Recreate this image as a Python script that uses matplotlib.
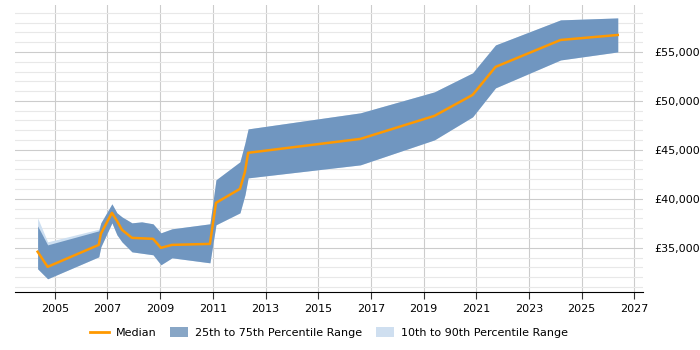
import matplotlib.pyplot as plt
from matplotlib.ticker import MultipleLocator, FuncFormatter
from matplotlib.patches import Patch
from matplotlib.lines import Line2D

# Data (decimal years, salary in GBP)
years = [2004.35, 2004.73, 2006.67, 2006.75, 2007.17, 2007.36, 2007.55, 2007.93,
         2008.3, 2008.73, 2009.03, 2009.45, 2010.89, 2011.12, 2012.03, 2012.22,
         2012.34, 2016.6, 2019.41, 2020.86, 2021.73, 2024.2, 2026.37]
median = [34600, 33060, 35300, 36430, 38570, 37760, 36840, 36020,
          35970, 35920, 35000, 35300, 35400, 39590, 41020, 42760,
          44700, 46120, 48470, 50610, 53470, 56220, 56730]
p75 = [37240, 35300, 36730, 37550, 39490, 38570, 38160, 37550,
       37650, 37450, 36530, 36940, 37450, 41940, 43780, 45710,
       47140, 48780, 50920, 52860, 55710, 58270, 58470]
p25 = [32860, 31840, 34080, 35100, 37550, 36330, 35610, 34590,
       34450, 34290, 33270, 33980, 33470, 37350, 38570, 40410,
       42140, 43470, 46020, 48370, 51330, 54180, 55000]
p90 = [38060, 35610, 36900, 37550, 39490, 38570, 38160, 37550,
       37650, 37450, 36530, 36940, 37450, 41940, 43780, 45710,
       47140, 48780, 50920, 52860, 55710, 58270, 58470]
p10 = p25
xticks = [2005, 2007, 2009, 2011, 2013, 2015, 2017, 2019, 2021, 2023, 2025, 2027]

fig = plt.figure(figsize=(7, 3.5), dpi=100)
ax = fig.add_axes([0.021, 0.166, 0.898, 0.82])

# Bands and median
ax.fill_between(years, p10, p90, color='#cddff1', linewidth=0, zorder=2)
ax.fill_between(years, p25, p75, color='#7096c0', linewidth=0, zorder=3)
ax.plot(years, median, color='#ff9900', linewidth=1.8, zorder=4)

# Axes limits and ticks
ax.set_xlim(2003.48, 2027.34)
ax.set_ylim(30500, 59800)
ax.set_xticks(xticks)
ax.xaxis.set_major_formatter(FuncFormatter(lambda v, p: '%d' % v))
ax.yaxis.set_major_locator(MultipleLocator(5000))
ax.yaxis.set_minor_locator(MultipleLocator(1000))
ax.yaxis.set_major_formatter(FuncFormatter(lambda v, p: '£{:,.0f}'.format(v)))
ax.yaxis.tick_right()
ax.tick_params(axis='y', which='both', length=0, labelsize=8, pad=8)
ax.tick_params(axis='x', length=5, color='#333333', labelsize=8)

# Grid
ax.grid(axis='x', which='major', color='#cccccc', linewidth=0.8, zorder=0)
ax.grid(axis='y', which='major', color='#cccccc', linewidth=0.8, zorder=0)
ax.grid(axis='y', which='minor', color='#e8e8e8', linewidth=0.8, zorder=0)
ax.set_axisbelow(True)

# Box
for s in ['top', 'right', 'left']:
    ax.spines[s].set_visible(False)
ax.spines['bottom'].set_color('#000000')

# Legend
handles = [Line2D([0], [0], color='#ff9900', linewidth=2),
           Patch(facecolor='#88a6c6', edgecolor='none'),
           Patch(facecolor='#cfdff0', edgecolor='none')]
labels = ['Median', '25th to 75th Percentile Range', '10th to 90th Percentile Range']
fig.legend(handles, labels, loc='center', bbox_to_anchor=(0.47, 0.049), ncol=3,
           frameon=False, fontsize=8, handlelength=1.7, handleheight=1.0,
           columnspacing=1.2, handletextpad=0.6)

fig.savefig('out.png', dpi=100)
